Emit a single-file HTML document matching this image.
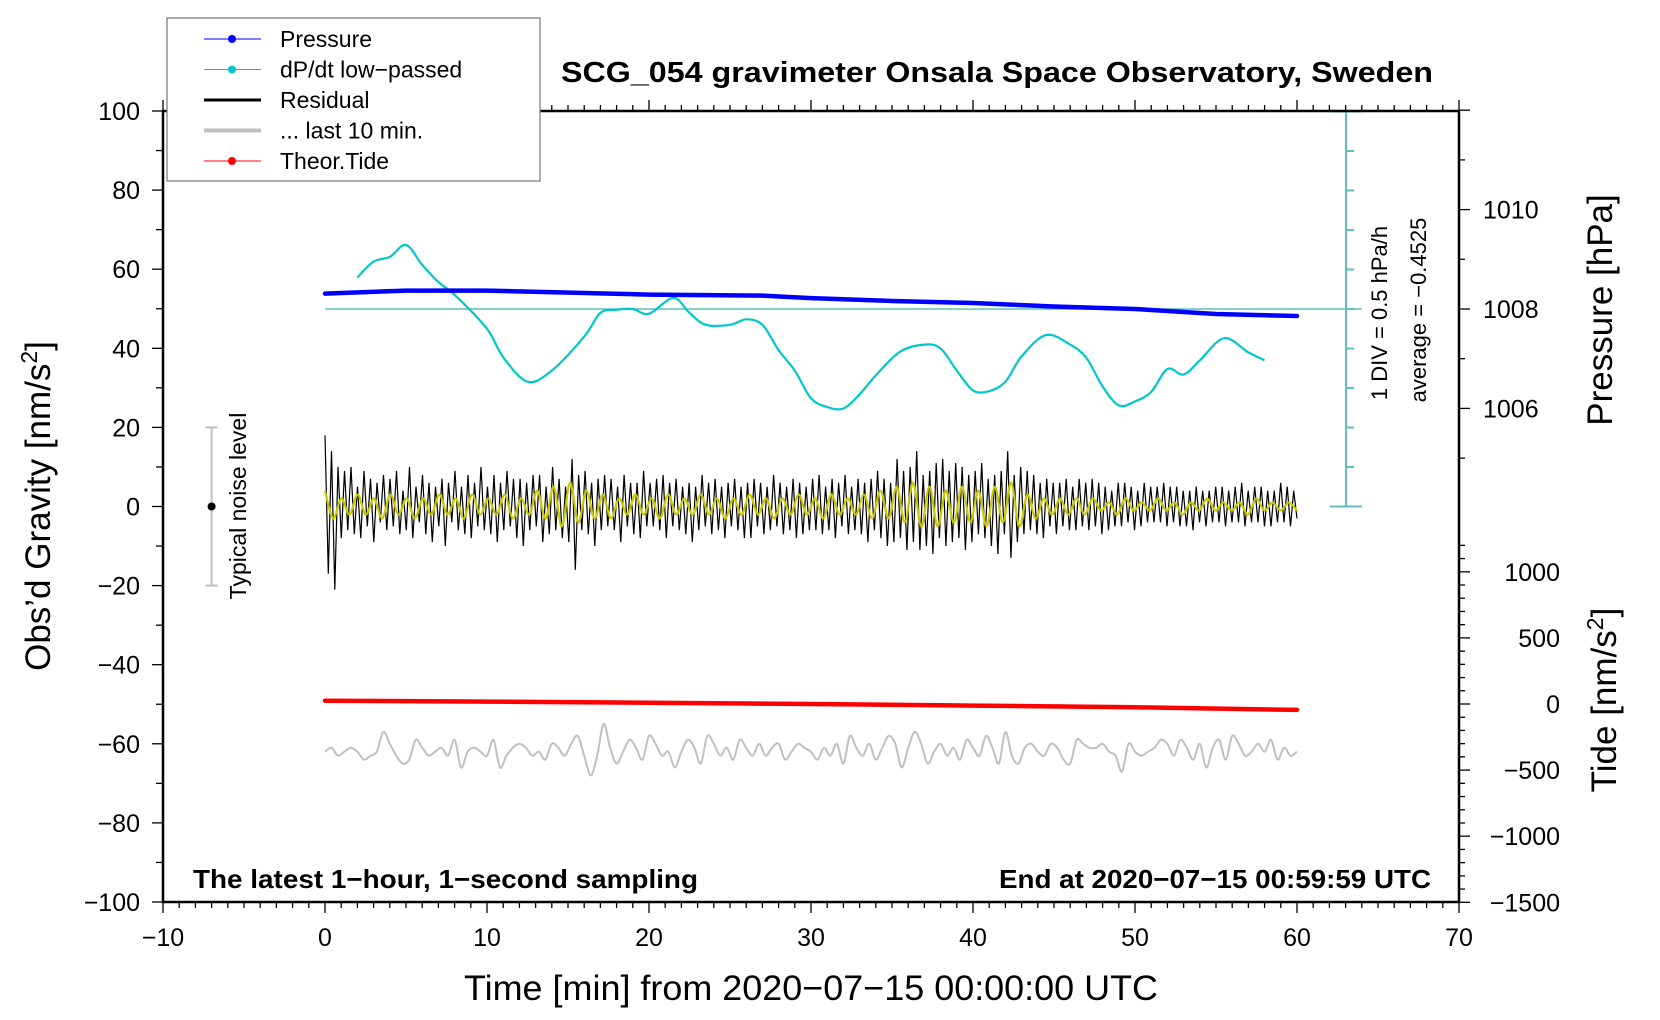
<!DOCTYPE html>
<html><head><meta charset="utf-8"><style>
html,body{margin:0;padding:0;background:#fff;}
svg{display:block;font-family:"Liberation Sans",sans-serif;}
</style></head><body>
<svg id="chart" width="1660" height="1020" viewBox="0 0 1660 1020" xmlns="http://www.w3.org/2000/svg"></svg>
<script>
// ---- data ----
const xTicks=[-10,0,10,20,30,40,50,60,70];
const yTicks=[100,80,60,40,20,0,-20,-40,-60,-80,-100];
const pTicks=[1010,1008,1006];
const tideTicks=[1000,500,0,-500,-1000,-1500];
const pressureT=[0,5,10,20,27,30,35,40,45,50,55,60];
const pressureV=[1008.31,1008.37,1008.37,1008.29,1008.27,1008.22,1008.16,1008.12,1008.05,1008.0,1007.9,1007.86];
const dpdtT=[2,3,4,5,6,7,8,10,11,12.5,14,16,17,18,19,20,21.5,22.5,23.5,25,26,27,28,29,30,31,32,33,34,35.5,37,38,39,40,41,42,43,44.5,46,47,48,49,50,51,52,53,54,55.5,57,58];
const dpdtV=[0.40,0.60,0.66,0.81,0.56,0.34,0.18,-0.25,-0.61,-0.92,-0.78,-0.35,-0.05,-0.01,0,-0.06,0.14,-0.05,-0.2,-0.2,-0.13,-0.2,-0.52,-0.78,-1.13,-1.24,-1.26,-1.08,-0.84,-0.54,-0.45,-0.5,-0.78,-1.03,-1.04,-0.92,-0.6,-0.33,-0.45,-0.62,-0.98,-1.22,-1.17,-1.05,-0.76,-0.83,-0.65,-0.37,-0.55,-0.65];
const tideT=[0,10,20,30,40,50,60];
const tideV=[25,18,10,0,-12,-25,-45];
const residual=[18,-17,14,-21,10,-8,9,-6,10,-7,5,-8,9,-5,7,-9,6,-4,8,-6,7,-5,9,-7,4,-6,10,-8,5,-4,8,-7,6,-9,5,-5,7,-10,6,-4,9,-6,5,-7,8,-8,6,-5,10,-6,5,-7,8,-9,6,-6,9,-5,7,-8,7,-10,6,-6,8,-5,8,-9,5,-7,10,-6,7,-8,5,-9,12,-16,8,-6,9,-7,6,-10,7,-6,8,-5,7,-6,5,-9,8,-5,6,-7,6,-8,9,-5,6,-5,7,-6,8,-8,6,-5,7,-6,5,-7,6,-9,5,-6,8,-5,6,-7,7,-6,5,-8,6,-5,7,-6,5,-8,6,-8,7,-5,6,-7,5,-6,8,-5,6,-7,5,-6,7,-8,6,-7,5,-6,7,-6,8,-7,5,-6,7,-8,6,-5,8,-7,5,-6,7,-7,6,-9,7,-6,9,-8,7,-10,6,-9,12,-8,9,-11,10,-9,14,-11,8,-10,9,-12,11,-8,12,-10,9,-9,11,-8,10,-11,8,-9,9,-7,11,-8,7,-10,8,-12,9,-7,14,-13,8,-9,10,-7,9,-6,8,-7,6,-8,7,-5,6,-7,6,-5,7,-6,5,-6,7,-5,6,-6,7,-5,6,-7,5,-6,4,-5,6,-5,6,-4,5,-6,4,-5,6,-4,5,-4,5,-4,6,-5,5,-4,5,-5,4,-5,4,-6,5,-4,4,-5,4,-4,5,-4,5,-5,4,-4,5,-4,6,-5,4,-4,5,-4,5,-5,4,-5,4,-4,6,-4,5,-5,4,-3];
const filtered=[4,-3,2,-2,3,-2,2,-3,3,-2,2,-3,2,-2,3,-2,2,-3,3,-2,2,-2,3,-3,2,-2,4,-3,5,-5,6,-4,4,-3,3,-3,2,-2,3,-2,2,-3,3,-2,2,-2,3,-2,2,-3,2,-2,3,-2,2,-3,2,-2,3,-2,2,-3,3,-2,2,-2,3,-3,4,-3,5,-4,6,-5,5,-5,4,-4,5,-4,4,-5,5,-4,6,-5,3,-3,2,-2,2,-2,2,-2,2,-1,1,-2,2,-1,1,-1,2,-1,1,-2,1,-1,2,-1,1,-1,1,-2,2,-1,1,-1,1,-1];
const last10=[-62,-61,-63,-62,-61,-62,-64,-63,-62,-57,-60,-63,-65,-64,-59,-61,-63,-62,-61,-63,-59,-66,-62,-61,-62,-63,-59,-66,-63,-61,-60,-61,-63,-62,-64,-60,-61,-63,-60,-58,-63,-68,-63,-55,-61,-65,-62,-59,-61,-64,-58,-60,-63,-62,-66,-62,-59,-61,-65,-58,-60,-63,-61,-64,-59,-61,-63,-60,-63,-61,-60,-64,-62,-60,-61,-62,-64,-61,-63,-60,-65,-58,-61,-63,-60,-64,-61,-58,-60,-66,-61,-57,-60,-65,-62,-60,-63,-61,-64,-59,-61,-63,-58,-61,-65,-57,-63,-65,-61,-60,-62,-63,-60,-61,-64,-65,-59,-60,-61,-61,-60,-62,-63,-67,-60,-62,-63,-62,-61,-59,-60,-63,-59,-61,-64,-60,-66,-61,-59,-64,-58,-60,-63,-62,-60,-62,-59,-64,-61,-63,-62];

// ---- axes ----
const L=163,R=1459,T=111,B=902;
const X=t=>L+(t+10)/80*(R-L);
const Y=v=>T+(100-v)/200*(B-T);
const YP=p=>309-(p-1008)*49.7;
const YT=v=>704-v*0.1322;
const YD=d=>309-d/0.5*39.5;
const NS="http://www.w3.org/2000/svg";
const svg=document.getElementById('chart');
function el(tag,attrs,parent){const e=document.createElementNS(NS,tag);for(const k in attrs)e.setAttribute(k,attrs[k]);(parent||svg).appendChild(e);return e;}
function txt(s,attrs,parent){const e=el('text',attrs,parent);e.textContent=s;return e;}
function pathOf(ts,vs,fx,fy){return ts.map((t,i)=>(i?'L':'M')+fx(t).toFixed(1)+','+fy(vs[i]).toFixed(1)).join('');}
function smoothOf(ts,vs,fx,fy){const p=ts.map((t,i)=>[fx(t),fy(vs[i])]);let d='M'+p[0][0].toFixed(1)+','+p[0][1].toFixed(1);
 for(let i=0;i<p.length-1;i++){const p0=p[Math.max(0,i-1)],p1=p[i],p2=p[i+1],p3=p[Math.min(p.length-1,i+2)];
  const c1=[p1[0]+(p2[0]-p0[0])/6,p1[1]+(p2[1]-p0[1])/6],c2=[p2[0]-(p3[0]-p1[0])/6,p2[1]-(p3[1]-p1[1])/6];
  d+='C'+c1.map(v=>v.toFixed(1)).join(',')+' '+c2.map(v=>v.toFixed(1)).join(',')+' '+p2.map(v=>v.toFixed(1)).join(',');}
 return d;}
function seq(n,t0,t1){const a=[];for(let i=0;i<n;i++)a.push(t0+(t1-t0)*i/(n-1));return a;}

// dP/dt scale (cyan)
const cy=el('g',{});


el('line',{x1:1346,y1:T,x2:1346,y2:506,stroke:'#5fc0c0','stroke-width':2},cy);
for(let k=-5;k<=5;k++){const y=309+k*39.5;const big=(k===-5||k===5);el('line',{x1:1346,y1:y,x2:big?1362:1354,y2:y,stroke:'#5fc0c0','stroke-width':2},cy);if(big)el('line',{x1:1330,y1:y,x2:1346,y2:y,stroke:'#5fc0c0','stroke-width':2},cy);}
el('line',{x1:X(0),y1:309,x2:1362,y2:309,stroke:'#5fc0c0','stroke-width':1.5},cy);
const d1=txt('1 DIV = 0.5 hPa/h',{x:0,y:0,'font-size':22,'text-anchor':'middle',transform:'translate(1387,313) rotate(-90)'},cy);

const d2=txt('average = \u22120.4525',{x:0,y:0,'font-size':22,'text-anchor':'middle',transform:'translate(1426,310) rotate(-90)'},cy);


// series
const last=el('path',{d:smoothOf(seq(last10.length,0,60),last10,X,Y),fill:'none',stroke:'#c0c0c0','stroke-width':2});

const res=el('path',{d:pathOf(seq(residual.length,0,60),residual,X,Y),fill:'none',stroke:'#000','stroke-width':1.2});

const fil=el('path',{d:smoothOf(seq(filtered.length,0,60),filtered,X,Y),fill:'none',stroke:'#c8c800','stroke-width':2.2});

const tide=el('path',{d:pathOf(tideT,tideV,X,YT),fill:'none',stroke:'#ff0000','stroke-width':4.5,'stroke-linecap':'round'});

const dp=el('path',{d:smoothOf(dpdtT,dpdtV,X,YD),fill:'none',stroke:'#00c8c8','stroke-width':2.2,'stroke-linejoin':'round'});

const pr=el('path',{d:pathOf(pressureT,pressureV,X,YP),fill:'none',stroke:'#0000ff','stroke-width':4.5,'stroke-linecap':'round'});


// noise bar
const nb=el('g',{});

el('line',{x1:X(-7),y1:Y(20),x2:X(-7),y2:Y(-20),stroke:'#c0c0c0','stroke-width':2},nb);
el('line',{x1:X(-7)-6,y1:Y(20),x2:X(-7)+6,y2:Y(20),stroke:'#c0c0c0','stroke-width':2},nb);
el('line',{x1:X(-7)-6,y1:Y(-20),x2:X(-7)+6,y2:Y(-20),stroke:'#c0c0c0','stroke-width':2},nb);
el('circle',{cx:X(-7),cy:Y(0),r:4,fill:'#000'},nb);
txt('Typical noise level',{x:0,y:0,'font-size':23,'text-anchor':'middle',transform:'translate(246,506) rotate(-90)'},nb);

// frame
const fr=el('g',{});

el('rect',{x:L,y:T,width:R-L,height:B-T,fill:'none',stroke:'#000','stroke-width':2.5},fr);
for(let t=-10;t<=70;t++){const x=X(t);const big=t%10===0;
 el('line',{x1:x,y1:B,x2:x,y2:B+(big?11:6),stroke:'#000','stroke-width':1.3},fr);
 el('line',{x1:x,y1:T,x2:x,y2:T-(big?11:6),stroke:'#000','stroke-width':1.3},fr);}
xTicks.forEach(t=>{const s=txt((t<0?'\u2212':'')+Math.abs(t),{x:X(t),y:946,'font-size':25,'text-anchor':'middle'});
 });
for(let v=-100;v<=100;v+=10){const y=Y(v);el('line',{x1:L,y1:y,x2:L-(v%20===0?11:7),y2:y,stroke:'#000','stroke-width':1.3},fr);}
yTicks.forEach(v=>{const s=txt((v<0?'\u2212':'')+Math.abs(v),{x:140,y:Y(v)+9,'font-size':25,'text-anchor':'end'});
 });
for(let p=1005;p<=1012;p++){const y=YP(p);if(y<T-1||y>506)continue;el('line',{x1:R,y1:y,x2:R+(p%2===0?11:6),y2:y,stroke:'#000','stroke-width':1.3},fr);}
pTicks.forEach(p=>{const s=txt(String(p),{x:1483,y:YP(p)+9,'font-size':25});
 });
for(let v=-1500;v<=1200;v+=100){const y=YT(v);if(y<520)continue;el('line',{x1:R,y1:y,x2:R+(v%500===0?11:6),y2:y,stroke:'#000','stroke-width':1.3},fr);}
tideTicks.forEach(v=>{const s=txt((v<0?'\u2212':'')+Math.abs(v),{x:1560,y:YT(v)+9,'font-size':25,'text-anchor':'end'});
 });

// titles
const ti=txt('SCG_054 gravimeter Onsala Space Observatory, Sweden',{x:997,y:82,'font-size':29,'font-weight':'bold','text-anchor':'middle',textLength:872,lengthAdjust:'spacingAndGlyphs'});

const xt=txt('Time [min] from 2020\u221207\u221215 00:00:00 UTC',{x:811,y:1000,'font-size':35,'text-anchor':'middle',textLength:694,lengthAdjust:'spacingAndGlyphs'});

const yt=el('text',{x:0,y:0,'font-size':35,'text-anchor':'middle',transform:'translate(50,506) rotate(-90)'});
yt.innerHTML='Obs\u2019d Gravity [nm/s<tspan font-size="23" dy="-13">2</tspan><tspan dy="13">]</tspan>';

const pt=txt('Pressure [hPa]',{x:0,y:0,'font-size':35,'text-anchor':'middle',transform:'translate(1612,310) rotate(-90)'});

const tt=el('text',{x:0,y:0,'font-size':35,'text-anchor':'middle',transform:'translate(1616,700) rotate(-90)'});
tt.innerHTML='Tide [nm/s<tspan font-size="23" dy="-13">2</tspan><tspan dy="13">]</tspan>';

const n1=txt('The latest 1\u2212hour, 1\u2212second sampling',{x:193,y:888,'font-size':26,'font-weight':'bold',textLength:505,lengthAdjust:'spacingAndGlyphs'});

const n2=txt('End at 2020\u221207\u221215 00:59:59 UTC',{x:999,y:888,'font-size':26,'font-weight':'bold',textLength:432,lengthAdjust:'spacingAndGlyphs'});


// legend
const lg=el('g',{});

el('rect',{x:167,y:18,width:373,height:163,fill:'#fff',stroke:'#808080','stroke-width':1.3},lg);
const items=[['Pressure','#0000ff',1,true,'legend-entry-pressure'],['dP/dt low\u2212passed','#00c8c8',1,true,'legend-entry-dpdt'],['Residual','#000',3,false,'legend-entry-residual'],['... last 10 min.','#c0c0c0',4,false,'legend-entry-last-10-min'],['Theor.Tide','#ff0000',1,true,'legend-entry-tide']];
items.forEach((it,i)=>{const y=39+i*30.5;const g=el('g',{},lg);
 
 el('line',{x1:204,y1:y,x2:261,y2:y,stroke:it[1],'stroke-width':it[2]},g);
 if(it[3])el('circle',{cx:232,cy:y,r:4,fill:it[1]},g);
 txt(it[0],{x:280,y:y+8,'font-size':23},g);});
</script>
</body></html>
